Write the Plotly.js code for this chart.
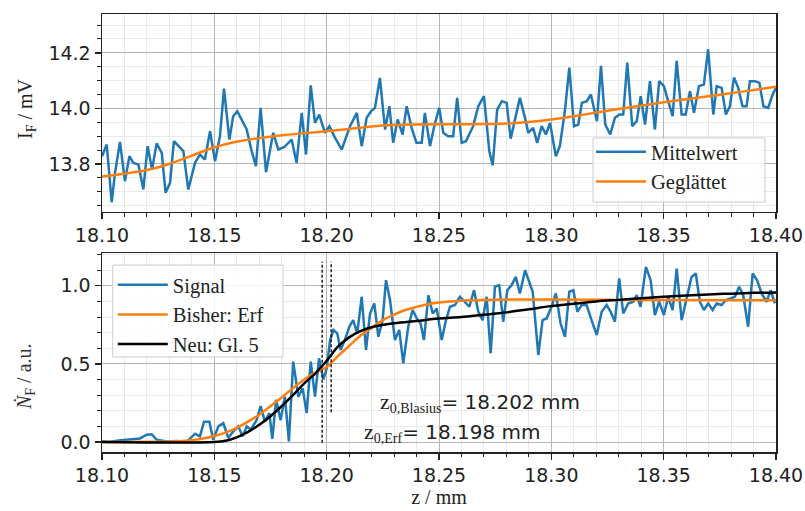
<!DOCTYPE html>
<html>
<head>
<meta charset="utf-8">
<script src="https://cdn.plot.ly/plotly-3.0.1.min.js"></script>
<style>html,body{margin:0;padding:0;background:#fff;}#chart{width:805px;height:511px;}</style>
</head>
<body>
<div id="chart"></div>
<script>
// ---------- Top panel: Mittelwert (I_F in mV) ----------
const meanZ = [18.1000,18.1021,18.1043,18.1058,18.1080,18.1102,18.1122,18.1139,18.1162,18.1184,18.1203,18.1223,18.1243,18.1266,18.1283,18.1303,18.1320,18.1340,18.1362,18.1384,18.1414,18.1436,18.1458,18.1481,18.1503,18.1525,18.1543,18.1567,18.1584,18.1602,18.1644,18.1665,18.1685,18.1706,18.1730,
18.1762,18.1785,18.1810,18.1844,18.1866,18.1889,18.1908,18.1929,18.1948,18.1967,18.1992,18.2012,18.2037,18.2067,18.2104,18.2134,18.2156,18.2178,18.2198,18.2215,18.2237,18.2260,18.2279,18.2296,18.2316,18.2338,18.2356,18.2378,18.2400,18.2423,18.2437,18.2460,18.2480,18.2501,18.2519,18.2541,18.2563,18.2581,18.2601,18.2620,18.2652,18.2675,18.2700,18.2724,18.2739,18.2759,18.2780,18.2801,18.2819,18.2842,18.2860,18.2883,18.2897,
18.2919,18.2937,18.2957,18.2976,18.2994,18.3020,18.3038,18.3061,18.3080,18.3101,18.3120,18.3136,18.3158,18.3176,18.3203,18.3221,18.3240,18.3262,18.3283,18.3303,18.3320,18.3338,18.3360,18.3380,18.3398,18.3417,18.3439,18.3461,18.3480,18.3501,18.3518,18.3540,18.3558,18.3580,18.3598,18.3617,18.3635,18.3657,18.3679,18.3698,18.3721,18.3736,18.3758,18.3777,18.3795,18.3813,18.3832,18.3851,18.3869,18.3884,18.3906,18.3926,18.3944,18.3965,18.3985,18.4000];
const meanVal = [13.828,13.870,13.662,13.768,13.879,13.738,13.828,13.804,13.798,13.708,13.864,13.780,13.874,13.840,13.696,13.732,13.882,13.866,13.846,13.708,13.804,13.834,13.816,13.918,13.810,13.900,14.071,13.888,13.972,13.990,13.924,13.850,13.792,14.002,13.770,
13.912,13.852,13.860,13.888,13.804,13.984,13.834,14.083,13.948,13.978,13.912,13.936,13.895,13.852,13.936,13.984,13.864,13.966,13.990,14.002,14.110,13.924,14.008,13.876,13.960,13.906,14.008,13.930,13.876,13.876,13.984,13.864,13.940,14.002,13.912,13.900,13.900,14.038,13.876,13.882,13.936,14.008,14.044,13.846,13.795,13.996,14.026,14.020,13.891,13.978,14.038,13.966,13.912,
13.930,13.876,13.936,13.906,13.948,13.828,13.864,13.996,14.147,13.936,13.942,14.020,14.026,14.050,13.954,14.153,13.942,13.906,13.966,13.978,13.978,14.165,13.936,13.954,14.044,13.942,14.098,13.924,14.098,14.080,14.032,13.972,14.171,13.978,13.978,14.062,13.984,14.080,14.086,14.213,13.978,14.080,14.074,13.978,14.008,14.111,14.074,14.008,14.008,14.098,14.098,14.092,14.008,14.002,14.050,14.074];

// Geglättet (smoothed)
const smoothZ = [18.10,18.11,18.12,18.13,18.14,18.15,18.16,18.17,18.18,18.19,18.20,18.21,18.22,18.23,18.24,18.25,18.26,18.27,18.28,18.29,18.30,18.31,18.32,18.33,18.34,18.35,18.36,18.37,18.38,18.39,18.40];
const smoothVal = [13.755,13.765,13.778,13.800,13.830,13.860,13.880,13.893,13.903,13.911,13.918,13.926,13.935,13.940,13.942,13.943,13.943,13.944,13.946,13.951,13.960,13.972,13.985,13.998,14.010,14.022,14.033,14.044,14.055,14.066,14.078];

// ---------- Bottom panel: normalised signal ----------
const sigZ = [18.1000,18.1036,18.1073,18.1110,18.1147,18.1169,18.1199,18.1221,18.1243,18.1288,18.1332,18.1377,18.1414,18.1436,18.1454,18.1478,18.1495,18.1518,18.1540,18.1562,18.1584,18.1607,18.1626,18.1644,18.1662,18.1688,18.1706,18.1725,18.1745,18.1758,18.1775,18.1795,18.1814,18.1832,18.1851,18.1874,18.1893,18.1911,18.1929,18.1948,18.1966,18.1985,18.2000,18.2015,18.2030,18.2047,18.2062,18.2081,18.2101,18.2118,18.2136,18.2156,18.2175,18.2193,18.2212,18.2230,18.2249,18.2264,18.2282,18.2304,18.2323,18.2341,18.2363,18.2383,18.2401,18.2418,18.2433,18.2453,18.2472,18.2490,18.2512,18.2531,18.2549,18.2571,18.2593,18.2616,18.2635,18.2656,18.2675,18.2694,18.2712,18.2730,18.2749,18.2768,18.2786,18.2804,18.2823,18.2842,18.2860,18.2883,18.2902,
18.2917,18.2942,18.2961,18.2979,18.3001,18.3020,18.3041,18.3061,18.3080,18.3098,18.3116,18.3135,18.3157,18.3179,18.3202,18.3224,18.3246,18.3264,18.3283,18.3302,18.3320,18.3342,18.3365,18.3380,18.3397,18.3421,18.3442,18.3461,18.3480,18.3501,18.3520,18.3540,18.3558,18.3580,18.3602,18.3624,18.3643,18.3661,18.3679,18.3698,18.3718,18.3736,18.3758,18.3777,18.3798,18.3817,18.3836,18.3854,18.3876,18.3896,18.3916,18.3936,18.3958,18.3976,18.3995];
const sigVal = [0.004,0.000,0.010,0.015,0.020,0.023,0.047,0.050,0.015,0.004,0.006,0.000,0.053,0.036,0.130,0.130,0.015,0.100,0.120,0.026,0.068,0.100,0.036,0.100,0.079,0.140,0.230,0.130,0.185,0.020,0.270,0.140,0.290,0.004,0.515,0.290,0.345,0.185,0.515,0.290,0.536,0.400,0.470,0.650,0.717,0.696,0.589,0.653,0.738,0.780,0.696,0.930,0.589,0.823,0.887,0.674,0.780,1.036,0.909,0.653,0.717,0.504,0.738,0.845,0.791,0.760,0.653,0.940,0.823,0.855,0.653,0.780,0.866,0.877,0.930,0.898,0.866,0.972,0.834,0.780,0.930,0.568,0.994,1.004,0.770,0.972,1.004,1.057,0.951,1.100,1.015,
0.962,0.557,0.780,0.791,0.866,0.951,0.760,0.674,0.962,0.972,0.834,0.877,0.877,0.780,0.685,0.834,0.877,0.834,0.770,1.047,0.823,0.887,0.898,0.940,0.866,1.121,1.036,0.813,0.898,0.813,0.930,0.845,1.110,0.780,0.909,1.057,1.079,0.898,0.845,0.887,0.845,0.887,0.877,0.909,0.919,0.930,0.994,0.940,0.738,1.079,1.036,0.951,0.898,0.972,0.887];

// Bisher: Erf
const erfZ = [18.10,18.12,18.13,18.14,18.145,18.15,18.155,18.16,18.165,18.17,18.175,18.18,18.185,18.19,18.195,18.20,18.205,18.21,18.215,18.22,18.225,18.23,18.235,18.24,18.245,18.25,18.26,18.27,18.28,18.30,18.34,18.40];
const erfVal = [0.000,0.001,0.004,0.012,0.022,0.038,0.060,0.090,0.130,0.175,0.230,0.285,0.345,0.400,0.445,0.480,0.550,0.615,0.680,0.730,0.780,0.815,0.845,0.865,0.882,0.893,0.905,0.910,0.912,0.912,0.910,0.908];

// Neu: Gl. 5
const newZ = [18.10,18.15,18.155,18.16,18.165,18.17,18.175,18.18,18.185,18.19,18.195,18.20,18.205,18.21,18.215,18.22,18.23,18.24,18.25,18.26,18.27,18.28,18.29,18.30,18.31,18.32,18.33,18.34,18.35,18.36,18.37,18.38,18.39,18.40];
const newVal = [0.000,0.000,0.008,0.030,0.065,0.110,0.165,0.230,0.300,0.375,0.440,0.520,0.610,0.670,0.710,0.735,0.760,0.775,0.790,0.800,0.815,0.830,0.850,0.870,0.885,0.900,0.910,0.920,0.930,0.938,0.945,0.950,0.955,0.958];

// Fit positions (dashed markers)
const z0Erf = 18.198;
const z0Blasius = 18.202;

const xTicks = ['18.10','18.15','18.20','18.25','18.30','18.35','18.40'];

const SERIF = 'Liberation Serif, DejaVu Serif, serif';
const SANS = 'DejaVu Sans, sans-serif';
const BLUE = '#1f77b4', ORANGE = '#ff7f0e';

const traces = [
  {x: meanZ, y: meanVal, type:'scatter', mode:'lines', name:'Mittelwert', line:{color:BLUE, width:2.5}, xaxis:'x', yaxis:'y', legend:'legend'},
  {x: smoothZ, y: smoothVal, type:'scatter', mode:'lines', name:'Geglättet', line:{color:ORANGE, width:2.5, shape:'spline'}, xaxis:'x', yaxis:'y', legend:'legend'},
  {x: sigZ, y: sigVal, type:'scatter', mode:'lines', name:'Signal', line:{color:BLUE, width:2.5}, xaxis:'x2', yaxis:'y2', legend:'legend2'},
  {x: erfZ, y: erfVal, type:'scatter', mode:'lines', name:'Bisher: Erf', line:{color:ORANGE, width:2.5, shape:'spline'}, xaxis:'x2', yaxis:'y2', legend:'legend2'},
  {x: newZ, y: newVal, type:'scatter', mode:'lines', name:'Neu: Gl. 5', line:{color:'#000', width:2.5, shape:'spline'}, xaxis:'x2', yaxis:'y2', legend:'legend2'}
];

const tickVals = xTicks.map(Number);
function xAxis(anchor, domainTitle){
  const ax = {
    anchor: anchor, range:[18.10,18.40], tickvals: tickVals, ticktext: xTicks,
    ticks:'outside', ticklen:6, tickwidth:1.3, tickcolor:'#222',
    showline:true, mirror:true, linecolor:'#222', linewidth:1.5,
    showgrid:true, gridcolor:'#b5b5b5', gridwidth:1, zeroline:false,
    tickfont:{family:SANS, size:19, color:'#222'},
    minor:{dtick:0.01, tick0:18.10, ticks:'outside', ticklen:3.5, tickwidth:1, tickcolor:'#222', showgrid:true, gridcolor:'#e4e4e4', gridwidth:0.8}
  };
  if (domainTitle) ax.title = {text: domainTitle, font:{family:SERIF, size:20, color:'#222'}, standoff:4};
  return ax;
}

const legendFont = {family:SERIF, size:20.5, color:'#222'};
const legendBox = {type:'rect', xref:'paper', yref:'paper', layer:'above', fillcolor:'rgba(255,255,255,0.85)', line:{color:'#cccccc', width:1}};

const layout = {
  width:805, height:511,
  margin:{l:102, r:29, t:14, b:59},
  paper_bgcolor:'#fff', plot_bgcolor:'#fff',
  showlegend:true,
  xaxis: xAxis('y', null),
  xaxis2: xAxis('y2', 'z / mm'),
  yaxis: {
    domain:[0.548,1], anchor:'x', range:[13.627,14.34], tickvals:[13.8,14.0,14.2], ticktext:['13.8','14.0','14.2'],
    ticks:'outside', ticklen:6, tickwidth:1.3, tickcolor:'#222',
    showline:true, mirror:true, linecolor:'#222', linewidth:1.5,
    showgrid:true, gridcolor:'#b5b5b5', gridwidth:1, zeroline:false,
    tickfont:{family:SANS, size:19, color:'#222'},
    minor:{dtick:0.05, tick0:13.8, ticks:'outside', ticklen:3.5, tickwidth:1, tickcolor:'#222', showgrid:true, gridcolor:'#e4e4e4', gridwidth:0.8}
  },
  yaxis2: {
    domain:[0,0.4543], anchor:'x2', range:[-0.064,1.21], tickvals:[0,0.5,1.0], ticktext:['0.0','0.5','1.0'],
    ticks:'outside', ticklen:6, tickwidth:1.3, tickcolor:'#222',
    showline:true, mirror:true, linecolor:'#222', linewidth:1.5,
    showgrid:true, gridcolor:'#b5b5b5', gridwidth:1, zeroline:false,
    tickfont:{family:SANS, size:19, color:'#222'},
    minor:{dtick:0.1, tick0:0, ticks:'outside', ticklen:3.5, tickwidth:1, tickcolor:'#222', showgrid:true, gridcolor:'#e4e4e4', gridwidth:0.8}
  },
  legend: {x:0.7255, xanchor:'left', y:0.571, yanchor:'bottom', bgcolor:'rgba(0,0,0,0)', borderwidth:0, font:legendFont, itemwidth:50},
  legend2: {x:0.016, xanchor:'left', y:0.427, yanchor:'top', bgcolor:'rgba(0,0,0,0)', borderwidth:0, font:legendFont, itemwidth:50},
  shapes: [
    {type:'line', xref:'x2', yref:'y2', x0:z0Erf, x1:z0Erf, y0:-0.005, y1:1.154, line:{color:'#111', width:1.4, dash:'3px,2px'}},
    {type:'line', xref:'x2', yref:'y2', x0:z0Blasius, x1:z0Blasius, y0:0.19, y1:1.154, line:{color:'#111', width:1.4, dash:'3px,2px'}},
    Object.assign({x0:0.7285, x1:0.9837, y0:0.5708, y1:0.7169}, legendBox),
    Object.assign({x0:0.0159, x1:0.2685, y0:0.2169, y1:0.4269}, legendBox)
  ],
  annotations: [
    {xref:'paper', yref:'paper', x:-0.1113, y:0.7854, xanchor:'center', yanchor:'middle', textangle:-90, showarrow:false,
     text:'I<sub>F</sub> / mV', font:{family:SERIF, size:20, color:'#222'}},
    {xref:'paper', yref:'paper', x:-0.1142, y:0.1712, xanchor:'center', yanchor:'middle', textangle:-90, showarrow:false,
     text:'<i>Ṅ</i><sub>F</sub> / a.u.', font:{family:SERIF, size:20, color:'#333'}},
    {xref:'x2', yref:'y2', x:18.2228, y:0.25, xanchor:'left', yanchor:'middle', showarrow:false,
     text:'<span style="font-family:Liberation Serif;font-size:22px">z</span><span style="font-family:Liberation Serif"><sub>0,Blasius</sub></span>= ' + z0Blasius.toFixed(3) + ' mm',
     font:{family:SANS, size:20, color:'#222'}},
    {xref:'x2', yref:'y2', x:18.2157, y:0.058, xanchor:'left', yanchor:'middle', showarrow:false,
     text:'<span style="font-family:Liberation Serif;font-size:22px">z</span><span style="font-family:Liberation Serif"><sub>0,Erf</sub></span>= ' + z0Erf.toFixed(3) + ' mm',
     font:{family:SANS, size:20, color:'#222'}}
  ]
};

Plotly.newPlot('chart', traces, layout, {displayModeBar:false, staticPlot:true});
</script>
</body>
</html>
